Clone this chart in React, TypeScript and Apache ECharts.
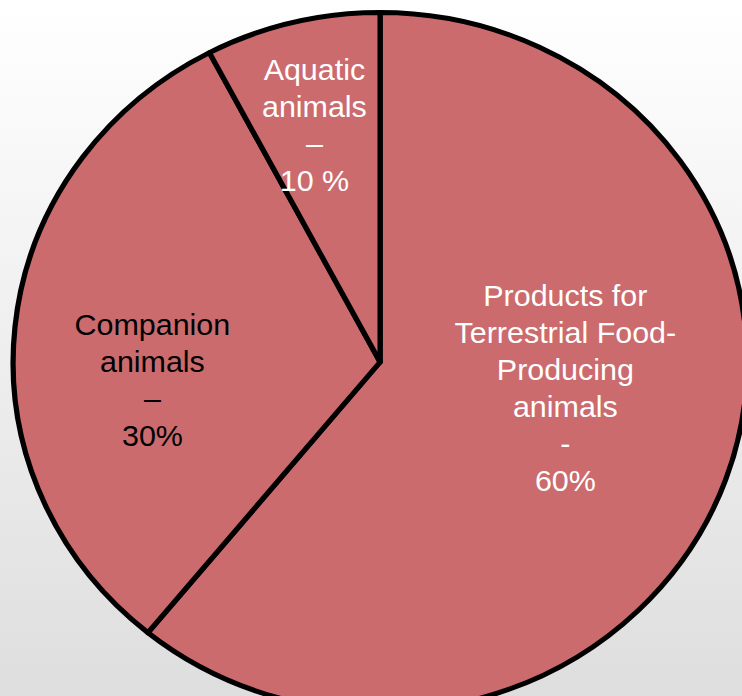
import React, { useEffect, useRef } from "react";
import * as echarts from "echarts";

const categories = [
  "Products for Terrestrial Food-Producing animals",
  "Companion animals",
  "Aquatic animals",
];
// slice sizes as drawn in the picture (percent of the circle)
const sliceValues = [60.9, 31.4, 7.7];
const labelTexts = [
  "Products for\nTerrestrial Food-\nProducing\nanimals\n-\n60%",
  "Companion\nanimals\n–\n30%",
  "Aquatic\nanimals\n–\n10 %",
];
const labelColors = ["#ffffff", "#000000", "#ffffff"];

// the reference is slightly stretched horizontally
const STRETCH = 1.05;
const W = 742;
const H = 696;

const labelShift = [
  { dx: 9, dy: -33 },
  { dx: -40, dy: 36 },
  { dx: -20, dy: -64 },
];

export default function App() {
  const ref = useRef<HTMLDivElement>(null);
  useEffect(() => {
    if (!ref.current) return;
    const chart = echarts.init(ref.current, null, { renderer: "svg" });
    chart.setOption({
      animation: false,
      series: [
        {
          type: "pie",
          center: [362, 362],
          radius: [0, 349.5],
          startAngle: 90,
          clockwise: true,
          avoidLabelOverlap: false,
          silent: true,
          emphasis: { disabled: true },
          itemStyle: {
            color: "#cb6b6e",
            borderColor: "#000000",
            borderWidth: 5,
          },
          labelLine: { show: false },
          label: {
            show: true,
            position: "inside",
            fontFamily: "Liberation Sans, Arial, sans-serif",
            fontSize: 29,
            lineHeight: 37,
            align: "center",
          },
          labelLayout: (params: any) => labelShift[params.dataIndex],
          data: categories.map((name, i) => ({
            name,
            value: sliceValues[i],
            label: {
              formatter: labelTexts[i],
              color: labelColors[i],
            },
          })),
        },
      ],
    });
    return () => chart.dispose();
  }, []);
  return (
    <div
      style={{
        position: "fixed",
        left: 0,
        top: 0,
        width: W,
        height: H,
        overflow: "hidden",
        background: "linear-gradient(to bottom, #ffffff 0%, #dedede 100%)",
      }}
    >
      <div
        ref={ref}
        style={{
          width: Math.ceil(W / STRETCH),
          height: H,
          transform: `scaleX(${STRETCH})`,
          transformOrigin: "0 0",
        }}
      />
    </div>
  );
}
